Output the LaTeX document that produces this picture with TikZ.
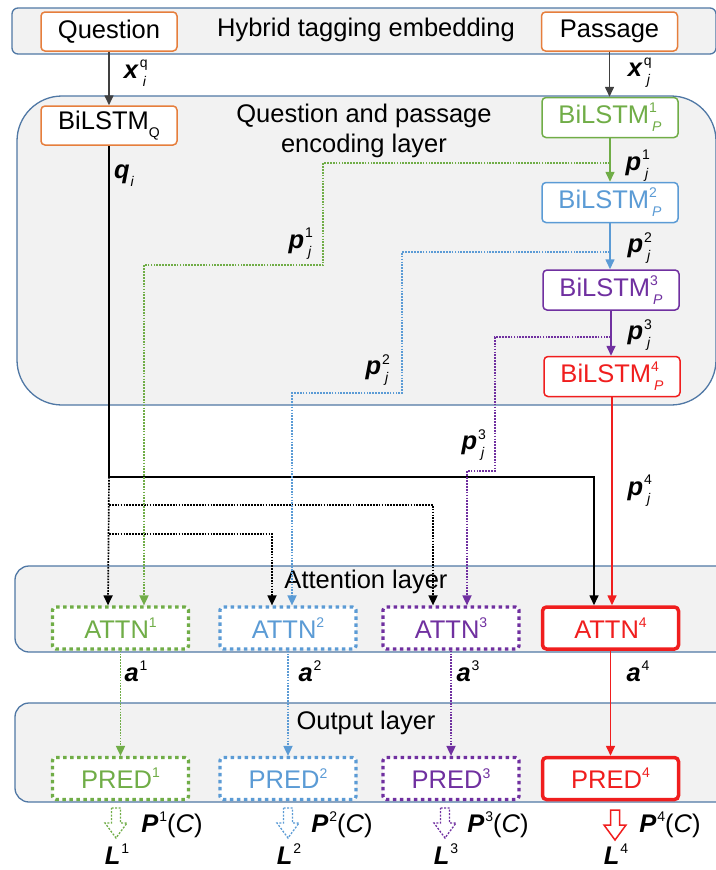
\documentclass[tikz,border=0pt]{standalone}
\usepackage{fontspec}
\setmainfont{Liberation Sans}
\usetikzlibrary{arrows.meta}
\definecolor{corange}{RGB}{230,126,60}
\definecolor{cgreen}{RGB}{112,173,71}
\definecolor{cblue}{RGB}{91,155,213}
\definecolor{cpurple}{RGB}{112,48,160}
\definecolor{cred}{RGB}{240,30,30}
\definecolor{bandline}{RGB}{80,120,165}
\definecolor{bandfill}{RGB}{242,242,242}
\definecolor{cgray}{RGB}{64,64,64}
\newcommand{\myup}[1]{\raisebox{0.42em}{\fontsize{14}{14}\selectfont #1}}
\newcommand{\mydn}[1]{\raisebox{-0.32em}{\fontsize{14}{14}\selectfont #1}}
\newcommand{\myud}[2]{\rlap{\myup{#1}}\kern3pt\mydn{#2}}
\newcommand{\bi}[1]{\textbf{\textit{#1}}\kern1pt}
\begin{document}
\begin{tikzpicture}[x=1pt,y=-1pt,font=\fontsize{25.5}{29}\selectfont,
  band/.style={draw=bandline,fill=bandfill,line width=1.3pt},
  obox/.style={draw=corange,fill=white,rounded corners=4pt,line width=1.5pt,minimum width=136pt,minimum height=39pt,inner sep=0pt},
  pbox/.style={draw=#1,text=#1,fill=white,rounded corners=4pt,line width=1.5pt,minimum width=136pt,minimum height=40pt,inner sep=0pt},
  dbox/.style={draw=#1,text=#1,fill=white,rounded corners=3pt,line width=3.2pt,dash pattern=on 3.5pt off 3.5pt,minimum width=136pt,minimum height=42pt,inner sep=0pt},
  sbox/.style={draw=#1,text=#1,fill=white,rounded corners=4pt,line width=3.5pt,minimum width=136pt,minimum height=42pt,inner sep=0pt},
  tip/.style={-{Triangle[length=10pt,width=9pt]}},
  solidc/.style={tip,draw=#1,line width=1.6pt},
  dotc/.style={tip,draw=#1,line width=1.7pt,dash pattern=on 1.7pt off 1.2pt},
  lbl/.style={inner sep=0pt},
  hollow/.pic={\draw[fill=white] (-4.5,0) -- (4.5,0) -- (4.5,15) -- (11,15) -- (0,30) -- (-11,15) -- (-4.5,15) -- cycle;}
]
\useasboundingbox (0,0) rectangle (715,870);
% bands
\draw[band,rounded corners=6pt] (12,8) rectangle (716,54);
\draw[band,rounded corners=45pt] (17,96) rectangle (716,405);
\draw[band,rounded corners=14pt] (15,566) rectangle (740,652);
\draw[band,rounded corners=14pt] (15,703) rectangle (740,802);
% top layer
\node[obox] (q) at (109,31.5) {Question};
\node[lbl] (hyb) at (366,30) {Hybrid tagging embedding};
\node[obox] (pas) at (609.5,31.5) {Passage};
% encoding layer
\node[obox] (bq) at (109,125.5) {BiLSTM\mydn{Q}};
\node[lbl,align=center,font=\fontsize{25.5}{30}\selectfont] (enc) at (364,131) {Question and passage\\encoding layer};
\node[pbox=cgreen] (b1) at (610,117.5) {BiLSTM\myud{1}{\itshape P}};
\node[pbox=cblue] (b2) at (610,202.5) {BiLSTM\myud{2}{\itshape P}};
\node[pbox=cpurple] (b3) at (611,290) {BiLSTM\myud{3}{\itshape P}};
\node[pbox=cred] (b4) at (612,376.5) {BiLSTM\myud{4}{\itshape P}};
% attention layer
\node[lbl] (att) at (366,582) {Attention layer};
\node[dbox=cgreen] (a1) at (120.5,628) {ATTN\myup{1}};
\node[dbox=cblue] (a2) at (288,628) {ATTN\myup{2}};
\node[dbox=cpurple] (a3) at (451,628) {ATTN\myup{3}};
\node[sbox=cred] (a4) at (610.5,628) {ATTN\myup{4}};
% output layer
\node[lbl] (out) at (366,723) {Output layer};
\node[dbox=cgreen] (p1) at (120.5,778.5) {PRED\myup{1}};
\node[dbox=cblue] (p2) at (288,778.5) {PRED\myup{2}};
\node[dbox=cpurple] (p3) at (451,778.5) {PRED\myup{3}};
\node[sbox=cred] (p4) at (610.5,778.5) {PRED\myup{4}};
% target coordinates on attention boxes
\coordinate (t1) at ([xshift=-12.5pt]a1.north);
\coordinate (g1) at ([xshift=23.5pt]a1.north);
\coordinate (t2) at ([xshift=-16pt]a2.north);
\coordinate (u2) at ([xshift=4pt]a2.north);
\coordinate (t3) at ([xshift=-18pt]a3.north);
\coordinate (u3) at ([xshift=16pt]a3.north);
\coordinate (t4) at ([xshift=-16.5pt]a4.north);
% input arrows
\draw[solidc=cgray] (q.south) -- (bq.north);
\draw[solidc=cgray] (pas.south) -- (pas.south |- b1.north);
% passage chain
\draw[solidc=cgreen] (b1.south) -- (b1.south |- b2.north);
\draw[solidc=cblue] (b2.south) -- (b2.south |- b3.north);
\draw[solidc=cpurple] (b3.south) -- (b3.south |- b4.north);
\draw[solidc=cred] (b4.south) -- (b4.south |- a4.north);
% question lines
\coordinate (jq) at (bq.south |- 0,477);
\draw[solidc=black] (bq.south) -- (jq) -| (t4);
\draw[dotc=black] (jq) -- (t1);
\draw[dotc=black] (bq.south |- 0,505) -| (t3);
\draw[dotc=black] (bq.south |- 0,534) -| (t2);
% passage dotted routes
\draw[dotc=cgreen] (b1.south |- 0,163) -| (323,265) -| (g1);
\draw[dotc=cblue] (b2.south |- 0,252) -| (402,393) -| (u2);
\draw[dotc=cpurple] (b3.south |- 0,337) -| (495,471) -| (u3);
% attention to prediction
\draw[dotc=cgreen] (a1.south) -- (p1.north);
\draw[dotc=cblue] (a2.south) -- (p2.north);
\draw[dotc=cpurple] (a3.south) -- (p3.north);
\draw[solidc=cred] (a4.south) -- (p4.north);
% labels
\node[lbl] (lx1) at (135,73) {\bi{x}\myud{q}{\itshape i}};
\node[lbl] (lx2) at (639,73) {\bi{x}\myud{q}{\itshape j}};
\node[lbl] (lqi) at (124,176) {\bi{q}\mydn{\itshape i}};
\node[lbl] (lp1a) at (637,166) {\bi{p}\myud{1}{\itshape j}};
\node[lbl] (lp1b) at (300,244) {\bi{p}\myud{1}{\itshape j}};
\node[lbl] (lp2a) at (639,248) {\bi{p}\myud{2}{\itshape j}};
\node[lbl] (lp2b) at (377,370) {\bi{p}\myud{2}{\itshape j}};
\node[lbl] (lp3a) at (639,335) {\bi{p}\myud{3}{\itshape j}};
\node[lbl] (lp3b) at (473,445) {\bi{p}\myud{3}{\itshape j}};
\node[lbl] (lp4) at (639,491) {\bi{p}\myud{4}{\itshape j}};
\node[lbl] (la1) at (136,671) {\bi{a}\myup{1}};
\node[lbl] (la2) at (310,671) {\bi{a}\myup{2}};
\node[lbl] (la3) at (468,671) {\bi{a}\myup{3}};
\node[lbl] (la4) at (638,671) {\bi{a}\myup{4}};
% outputs
\pic[draw=cgreen,line width=1.3pt,dash pattern=on 2pt off 1.5pt] at (116,808) {hollow};
\pic[draw=cblue,line width=1.3pt,dash pattern=on 2pt off 1.5pt] at (288,808) {hollow};
\pic[draw=cpurple,line width=1.3pt,dash pattern=on 2pt off 1.5pt] at (445,808) {hollow};
\pic[draw=cred,line width=1.5pt] at (615,810) {hollow};
\node[lbl] (lP1) at (172,825) {\bi{P}\myup{1}(\textit{C})};
\node[lbl] (lP2) at (342,825) {\bi{P}\myup{2}(\textit{C})};
\node[lbl] (lP3) at (498,825) {\bi{P}\myup{3}(\textit{C})};
\node[lbl] (lP4) at (670,825) {\bi{P}\myup{4}(\textit{C})};
\node[lbl,anchor=base] (lL1) at (117,864) {\bi{L}\myup{1}};
\node[lbl,anchor=base] (lL2) at (289,864) {\bi{L}\myup{2}};
\node[lbl,anchor=base] (lL3) at (446,864) {\bi{L}\myup{3}};
\node[lbl,anchor=base] (lL4) at (616,864) {\bi{L}\myup{4}};
\end{tikzpicture}
\end{document}
